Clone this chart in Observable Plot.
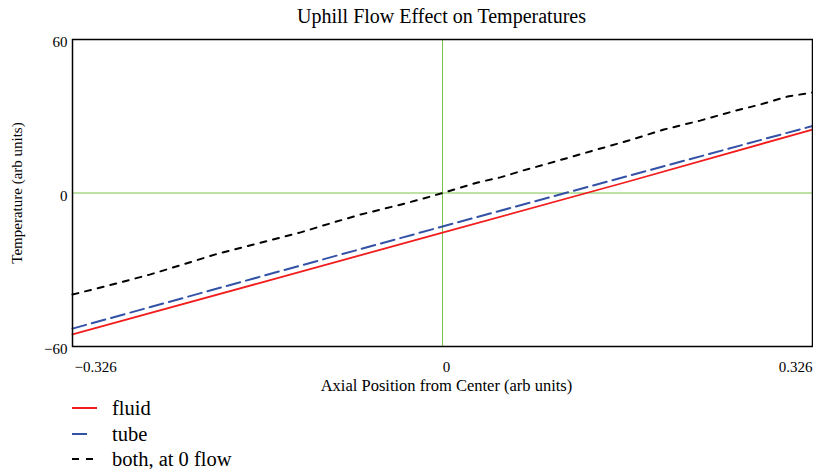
<!DOCTYPE html>
<html>
<head>
<meta charset="utf-8">
<script src="https://cdn.jsdelivr.net/npm/d3@7"></script>
<script src="https://cdn.jsdelivr.net/npm/@observablehq/plot@0.6"></script>
<style>
  html, body { margin: 0; padding: 0; background: #fff; }
  body { width: 813px; height: 469px; overflow: hidden; font-family: 'Liberation Serif', 'DejaVu Serif', serif; }
  #title { height: 32px; position: relative; }
  #title span { position: absolute; left: 0; width: 883px; text-align: center; top: 5px; font-size: 20px; color: #000; }
  #chart svg { display: block; }
  #legend { position: relative; height: 72px; }
  .item { position: absolute; left: 72px; height: 22px; display: flex; align-items: center; font-size: 20.5px; color: #000; }
  .item svg { margin-right: 15px; }
</style>
</head>
<body>
<div id="title"><span style="font-family: 'Liberation Serif', serif;">Uphill Flow Effect on Temperatures</span></div>
<div id="chart"></div>
<div id="legend"></div>
<script>
// Black dashed curve: both, at 0 flow
const xZero = [-0.326, -0.291, -0.258, -0.229, -0.200, -0.166, -0.125, -0.096, -0.072, -0.040, -0.017, 0, 0.031, 0.051, 0.071, 0.093, 0.115, 0.133, 0.164, 0.195, 0.227, 0.256, 0.280, 0.304, 0.326];
const zeroFlow = [-39.7, -35.8, -31.9, -28.0, -24.0, -20.1, -15.4, -11.5, -8.4, -4.9, -2.2, 0, 4.1, 6.1, 8.8, 11.5, 14.3, 16.6, 20.5, 24.8, 28.3, 31.9, 34.6, 37.7, 39.3];
// Fluid and tube
const xFlow = [-0.326, -0.163, 0, 0.163, 0.326];
const fluid = [-55.3, -35.4, -15.5, 4.4, 24.8];
const tube = [-53.0, -33.0, -13.1, 6.6, 26.2];

const yTicks = [-60, 0, 60];
const xTicks = [-0.326, 0, 0.326];
const seriesNames = ["fluid", "tube", "both, at 0 flow"];
const seriesColors = ["#f21c1c", "#3352a6", "#000000"];
const seriesDash = [null, "14,6", "6,7"];

const zeroData = xZero.map((x, i) => ({x, y: zeroFlow[i]}));
const fluidData = xFlow.map((x, i) => ({x, y: fluid[i]}));
const tubeData = xFlow.map((x, i) => ({x, y: tube[i]}));

const fmtX = d => d === 0 ? "0" : (d < 0 ? "\u2212" : "") + Math.abs(d).toFixed(3);
const fmtY = d => (d < 0 ? "\u2212" : "") + Math.abs(d);

const chart = Plot.plot({
  width: 813,
  height: 365,
  marginLeft: 72,
  marginRight: 1,
  marginTop: 7,
  marginBottom: 51,
  style: {fontFamily: "'Liberation Serif', serif", fontSize: "15px", background: "#fff", color: "#000"},
  x: {domain: [-0.326, 0.326]},
  y: {domain: [-60, 60]},
  marks: [
    Plot.ruleX([0], {stroke: "#7cc24a", strokeWidth: 1}),
    Plot.ruleY([0], {stroke: "#7cc24a", strokeWidth: 1}),
    Plot.line(zeroData, {x: "x", y: "y", stroke: seriesColors[2], strokeWidth: 2, strokeDasharray: seriesDash[2]}),
    Plot.line(tubeData, {x: "x", y: "y", stroke: seriesColors[1], strokeWidth: 2, strokeDasharray: seriesDash[1]}),
    Plot.line(fluidData, {x: "x", y: "y", stroke: seriesColors[0], strokeWidth: 1.8}),
    Plot.frame({stroke: "#000", strokeWidth: 1.5}),
    Plot.axisY(yTicks, {tickSize: 0, tickPadding: 5, tickFormat: fmtY, fontSize: 15, dy: 3, label: null}),
    Plot.axisX([xTicks[0]], {tickSize: 0, tickFormat: fmtX, textAnchor: "start", dx: 2, dy: 6, fontSize: 15, label: null}),
    Plot.axisX([xTicks[1]], {tickSize: 0, tickFormat: fmtX, dx: 4, dy: 6, fontSize: 15, label: null}),
    Plot.axisX([xTicks[2]], {tickSize: 0, tickFormat: fmtX, textAnchor: "end", dx: 0, dy: 6, fontSize: 15, label: null}),
    Plot.text(["Axial Position from Center (arb units)"], {frameAnchor: "bottom", dy: 44, dx: 4, fontSize: 16.5}),
    Plot.text(["Temperature (arb units)"], {frameAnchor: "left", textAnchor: "middle", rotate: -90, dx: -55, fontSize: 15})
  ]
});
document.getElementById("chart").appendChild(chart);

const legend = document.getElementById("legend");
const tops = [0, 26, 51];
seriesNames.forEach((name, i) => {
  const div = document.createElement("div");
  div.className = "item";
  div.style.top = tops[i] + "px";
  const w = 25;
  let inner;
  if (i === 0) inner = `<line x1="0" y1="6" x2="25" y2="6" stroke="${seriesColors[0]}" stroke-width="2"/>`;
  else if (i === 1) inner = `<line x1="0" y1="6" x2="15" y2="6" stroke="${seriesColors[1]}" stroke-width="2"/>`;
  else inner = `<line x1="0" y1="6" x2="21" y2="6" stroke="${seriesColors[2]}" stroke-width="2" stroke-dasharray="7,7"/>`;
  div.innerHTML = `<svg width="${w}" height="12">${inner}</svg><span style="font-family: 'Liberation Serif', serif;">${name}</span>`;
  legend.appendChild(div);
});
</script>
</body>
</html>
